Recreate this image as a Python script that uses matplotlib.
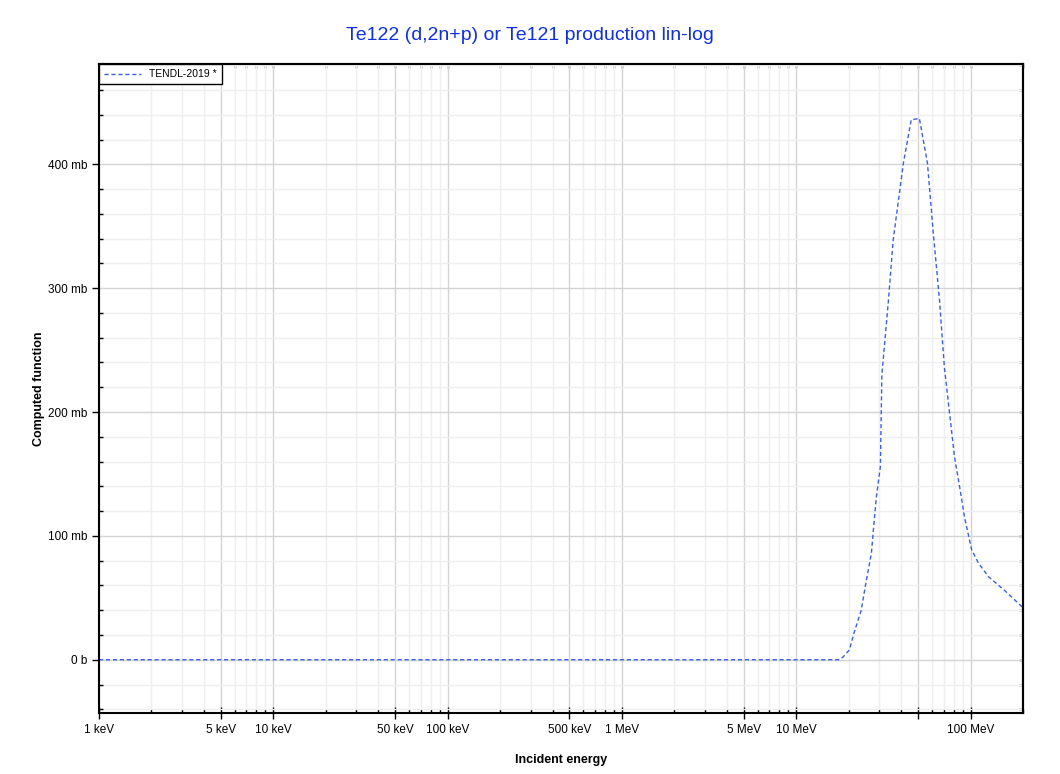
import numpy as np
import matplotlib
matplotlib.use("Agg")
import matplotlib.pyplot as plt
from matplotlib.ticker import FixedLocator, FuncFormatter

plt.rcParams['font.family'] = ['Liberation Sans', 'DejaVu Sans']

# Te122 (d,2n+p) production, TENDL-2019
energy_mev = [0.001, 0.01, 0.1, 1.0, 10.0, 17.5, 18.5, 20.2, 21.5, 23.6, 25.1, 27.0,
              27.6, 28.8, 30.4, 31.0, 33.8, 36.0, 38.6, 41.2, 45.7, 50.9, 56.6,
              61.2, 66.4, 70.8, 75.7, 80.9, 86.5, 92.4, 101.4, 111.0, 126.8,
              156.7, 200.0]
xs_mb = [0, 0, 0, 0, 0, 0, 2, 8, 22, 40, 62, 86,
         102, 131, 156, 230, 290, 339, 371, 401, 436, 437, 401,
         344, 290, 236, 200, 164, 140, 115, 89, 78, 67,
         56, 42]

series_label = "TENDL-2019 *"
title = "Te122 (d,2n+p) or Te121 production lin-log"

x_major = [1e3, 5e3, 1e4, 5e4, 1e5, 5e5, 1e6, 5e6, 1e7, 5e7, 1e8]
x_labels = {1e3: "1 keV", 5e3: "5 keV", 1e4: "10 keV", 5e4: "50 keV",
            1e5: "100 keV", 5e5: "500 keV", 1e6: "1 MeV", 5e6: "5 MeV",
            1e7: "10 MeV", 1e8: "100 MeV"}
x_minor = [m * 10.0**d for d in range(3, 9) for m in (2, 3, 4, 6, 7, 8, 9)
           if m * 10.0**d <= 2e8]
y_major = [0, 100, 200, 300, 400]
y_minor = list(range(-40, 481, 20))


def fmt_x(v, pos):
    for k, s in x_labels.items():
        if abs(v - k) / k < 1e-6:
            return s
    return ""


def fmt_y(v, pos):
    if abs(v) < 1e-9:
        return "0 b"
    return "%d mb" % round(v)


fig = plt.figure(figsize=(10.6, 7.74), dpi=100)
ax = fig.add_axes([99 / 1060, (774 - 713) / 774, (1023 - 99) / 1060, (713 - 64) / 774])

ax.plot(np.array(energy_mev) * 1e6, xs_mb, color='#3a5fe5', lw=1.0,
        ls=(0, (3, 2)), label=series_label)

ax.set_xscale('log')
ax.set_xlim(1e3, 2e8)
ax.set_ylim(-43, 481)

ax.xaxis.set_major_locator(FixedLocator(x_major))
ax.xaxis.set_minor_locator(FixedLocator(x_minor))
ax.xaxis.set_major_formatter(FuncFormatter(fmt_x))
ax.xaxis.set_minor_formatter(FuncFormatter(lambda v, p: ""))
ax.yaxis.set_major_locator(FixedLocator(y_major))
ax.yaxis.set_minor_locator(FixedLocator(y_minor))
ax.yaxis.set_major_formatter(FuncFormatter(fmt_y))

ax.grid(which='major', color='#d4d4d4', lw=1.0)
ax.grid(which='minor', color='#efefef', lw=1.0)
ax.set_axisbelow(True)

ax.tick_params(axis='x', which='major', direction='inout', length=8, width=1, labelsize=8.5, pad=4)
ax.tick_params(axis='y', which='major', direction='out', length=5, width=1, labelsize=8.5)
ax.tick_params(which='minor', direction='in', length=3, width=1)

for sp in ax.spines.values():
    sp.set_linewidth(1.5)
    sp.set_color('black')

# inward ticks on the top and right frame
top = ax.secondary_xaxis('top')
top.set_xticks(x_major)
top.set_xticks(x_minor, minor=True)
top.tick_params(which='both', direction='in', length=3, width=1, labeltop=False)
top.xaxis.set_major_formatter(FuncFormatter(lambda v, p: ""))
top.xaxis.set_minor_formatter(FuncFormatter(lambda v, p: ""))
right = ax.secondary_yaxis('right')
right.set_yticks(y_major)
right.set_yticks(y_minor, minor=True)
right.tick_params(which='both', direction='in', length=3, width=1, labelright=False)
for sec in (top, right):
    for sp in sec.spines.values():
        sp.set_linewidth(1.5)

ax.set_xlabel("Incident energy", fontsize=9, fontweight='bold', labelpad=13)
ax.set_ylabel("Computed function", fontsize=9, fontweight='bold', labelpad=2)

leg = ax.legend(loc='upper left', fontsize=7.5, frameon=True, fancybox=False,
                framealpha=1, edgecolor='black', borderaxespad=0, handlelength=3.5,
                borderpad=0.5)
leg.get_frame().set_linewidth(1.0)

fig.text(0.5, 1 - 36 / 774, title, ha='center', va='center', color='#1030e0', fontsize=14)

fig.savefig("out.png", dpi=100)
